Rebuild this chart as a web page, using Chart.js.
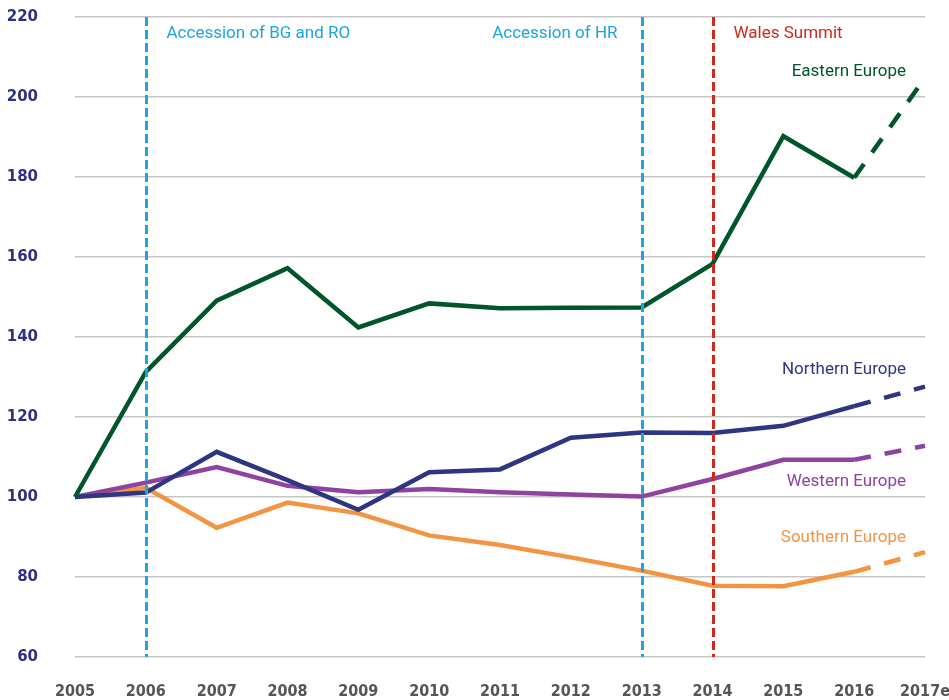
<!DOCTYPE html>
<html>
<head>
<meta charset="utf-8">
<script src="https://cdn.jsdelivr.net/npm/chart.js@4"></script>
<style>
  html, body { margin: 0; padding: 0; background: #fff; }
  #wrap { width: 949px; height: 700px; }
</style>
</head>
<body>
<div id="wrap"><canvas id="chart" width="949" height="700"></canvas></div>
<script>
// categories and series (index, 2005 = 100; last point is an estimate)
const years = ['2005', '2006', '2007', '2008', '2009', '2010', '2011', '2012', '2013', '2014', '2015', '2016', '2017e'];
const eastern  = [100, 131.3, 149.1, 157.2, 142.4, 148.4, 147.2, 147.3, 147.4, 158.3, 190.2, 179.8, 204.8];
const northern = [100, 101.1, 111.3, 104.2,  96.8, 106.2, 106.9, 114.8, 116.1, 116.0, 117.8, 122.7, 127.6];
const western  = [100, 103.6, 107.5, 102.8, 101.2, 102.0, 101.2, 100.6, 100.1, 104.5, 109.3, 109.3, 112.8];
const southern = [100, 102.3,  92.3,  98.6,  95.9,  90.4,  88.0,  84.9,  81.6,  77.8,  77.7,  81.3,  86.2];

const seriesNames = ['Eastern Europe', 'Northern Europe', 'Western Europe', 'Southern Europe'];
const seriesColors = ['#00562a', '#2e3582', '#8e43a0', '#f39443'];
const labelValues = [206.3, 131.8, 103.8, 89.8];   // where the series names sit on the y scale

const yTicks = [60, 80, 100, 120, 140, 160, 180, 200, 220];

// event markers
const markerYears = ['2006', '2013', '2014'];
const markerTexts = ['Accession of BG and RO', 'Accession of HR', 'Wales Summit'];
const markerColors = ['#1ba5e3', '#1ba5e3', '#d2281c'];
const markerSide = ['right', 'left', 'right'];

const TEXT_FONT = '17px Roboto, "Open Sans", sans-serif';
const lastIdx = years.length - 1;

const datasets = [eastern, northern, western, southern].map((values, i) => ({
    label: seriesNames[i],
    data: values,
    borderColor: seriesColors[i],
    borderWidth: 4.5,
    borderJoinStyle: 'miter',
    borderCapStyle: 'butt',
    pointRadius: 0,
    tension: 0,
    fill: false,
    segment: {
        borderDash: ctx => ctx.p1DataIndex === lastIdx ? [17, 14] : undefined
    }
}));

const annotations = {
    id: 'annotations',
    afterDatasetsDraw(chart) {
        const { ctx, chartArea, scales } = chart;
        const x = scales.x, y = scales.y;

        // vertical event markers
        markerYears.forEach((yr, i) => {
            const px = Math.round(x.getPixelForValue(years.indexOf(yr))) + 0.5;
            ctx.save();
            ctx.strokeStyle = markerColors[i];
            ctx.lineWidth = 3;
            ctx.setLineDash([9, 4]);
            ctx.beginPath();
            ctx.moveTo(px, y.getPixelForValue(220));
            ctx.lineTo(px, y.getPixelForValue(60));
            ctx.stroke();
            ctx.restore();

            ctx.save();
            ctx.font = TEXT_FONT;
            ctx.fillStyle = markerColors[i];
            ctx.textBaseline = 'middle';
            if (markerSide[i] === 'right') {
                ctx.textAlign = 'left';
                ctx.fillText(markerTexts[i], px + 20, y.getPixelForValue(215.8));
            } else {
                ctx.textAlign = 'right';
                ctx.fillText(markerTexts[i], px - 25, y.getPixelForValue(215.8));
            }
            ctx.restore();
        });

        // series names
        seriesNames.forEach((name, i) => {
            ctx.save();
            ctx.font = TEXT_FONT;
            ctx.fillStyle = seriesColors[i];
            ctx.textAlign = 'right';
            ctx.textBaseline = 'middle';
            ctx.fillText(name, chartArea.right - 19, y.getPixelForValue(labelValues[i]));
            ctx.restore();
        });
    }
};

new Chart(document.getElementById('chart'), {
    type: 'line',
    data: { labels: years, datasets: datasets },
    options: {
        responsive: false,
        animation: false,
        layout: { autoPadding: false, padding: { top: 17, right: 24, left: 0, bottom: 0 } },
        plugins: {
            legend: { display: false },
            tooltip: { enabled: false }
        },
        scales: {
            x: {
                offset: false,
                grid: { display: false, drawTicks: false },
                border: { display: false },
                afterFit: scale => {
                    scale.height = 43;
                    scale.paddingLeft = 0;
                    scale.paddingRight = 0;
                },
                ticks: {
                    padding: 25,
                    maxRotation: 0,
                    autoSkip: false,
                    color: '#555555',
                    font: { family: '"DejaVu Sans Condensed", "Liberation Sans Narrow", "DejaVu Sans"', size: 16, weight: 'bold' }
                }
            },
            y: {
                min: 60,
                max: 220,
                afterBuildTicks: scale => { scale.ticks = yTicks.map(v => ({ value: v })); },
                afterFit: scale => {
                    scale.width = 75;
                    scale.paddingTop = 0;
                    scale.paddingBottom = 0;
                },
                grid: { color: '#c6c6c6', lineWidth: 1.5, drawTicks: false },
                border: { display: false },
                ticks: {
                    padding: 37,
                    color: '#2b3281',
                    font: { family: '"DejaVu Sans", sans-serif', size: 15, weight: 'bold' }
                }
            }
        }
    },
    plugins: [annotations]
});
</script>
</body>
</html>
